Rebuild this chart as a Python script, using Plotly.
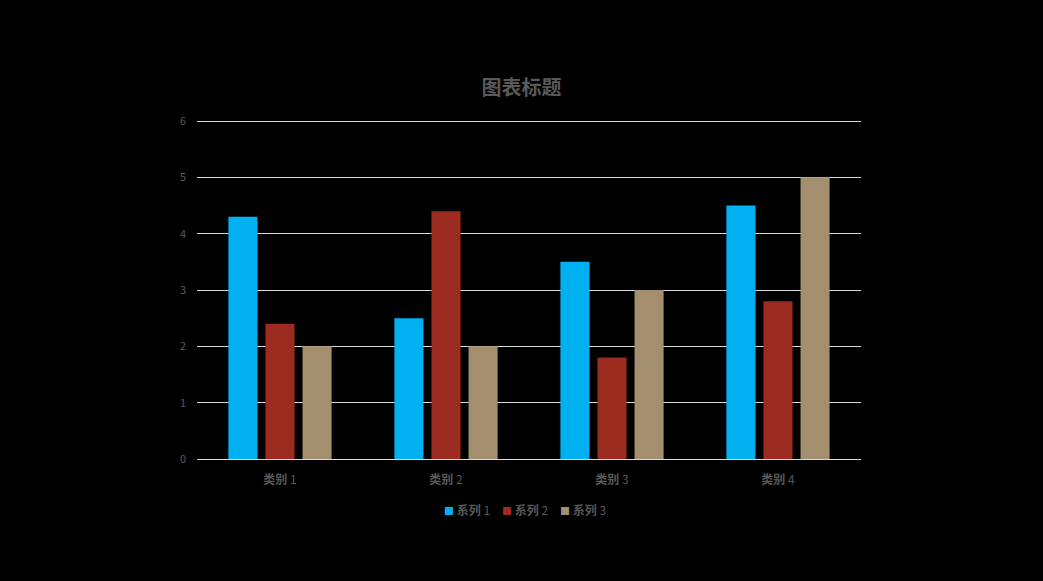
import plotly.graph_objects as go

categories = ["类别 1", "类别 2", "类别 3", "类别 4"]
series_names = ["系列 1", "系列 2", "系列 3"]
series1 = [4.3, 2.5, 3.5, 4.5]
series2 = [2.4, 4.4, 1.8, 2.8]
series3 = [2.0, 2.0, 3.0, 5.0]
colors = ["#00B0F0", "#9C2B20", "#A38F6E"]

def bold_label(s):
    word, num = s.split(" ")
    return f"<b>{word}</b> {num}"

fig = go.Figure()
for name, vals, c in zip(series_names, [series1, series2, series3], colors):
    fig.add_trace(go.Bar(x=categories, y=vals, name=name, showlegend=False,
                         marker=dict(color=c, line=dict(width=0))))
# legend entries: coloured square drawn as text so it sits close to its label
for name, c in zip(series_names, colors):
    fig.add_trace(go.Scatter(x=[None], y=[None], mode="markers",
                             name=f"<span style='color:{c};font-size:10px'>■</span> " + bold_label(name),
                             marker=dict(symbol="square", size=1, color="rgba(0,0,0,0)")))
fig.add_trace(go.Scatter(x=[None], y=[None], mode="markers", name=" ", hoverinfo="skip",
                         marker=dict(size=1, color="rgba(0,0,0,0)")))

font_family = "Noto Sans CJK SC"
fig.update_layout(
    width=1043, height=581,
    paper_bgcolor="#000000", plot_bgcolor="#000000",
    margin=dict(l=197, r=182, t=118, b=122, autoexpand=False),
    barmode="group", bargap=0.33, bargroupgap=0.216,
    title=dict(text="<b>图表标题</b>", x=0.5, xref="container", xanchor="center", y=1 - 88/581, yref="container",
               yanchor="middle", font=dict(family=font_family, size=20, color="#595959")),
    font=dict(family=font_family, color="#595959"),
    xaxis=dict(tickvals=categories, ticktext=[bold_label(c) for c in categories], tickfont=dict(size=12, color="#595959"),
               showgrid=False, showline=False, ticks="", zeroline=False, ticklabelstandoff=12, automargin=False),
    yaxis=dict(range=[0, 6.0533], tickvals=[0, 1, 2, 3, 4, 5, 6], tickfont=dict(size=11, color="#595959"), showgrid=True,
               gridcolor="#D9D9D9", gridwidth=1, zeroline=True, zerolinecolor="#D9D9D9", zerolinewidth=1, ticks="",
               ticklabelstandoff=10, automargin=False),
    legend=dict(orientation="h", x=(444 - 40) / 1043, xref="container", xanchor="left", y=1 - 510/581, yref="container",
                yanchor="middle", font=dict(size=12, color="#595959"), itemwidth=30, bgcolor="rgba(0,0,0,0)",
                tracegroupgap=0, entrywidth=13, entrywidthmode="pixels", itemclick=False, itemdoubleclick=False),
    showlegend=True,
)
fig.write_html("out.html", config={"displayModeBar": False},
               post_script="document.body.style.margin='0';document.body.style.background='#000';")
